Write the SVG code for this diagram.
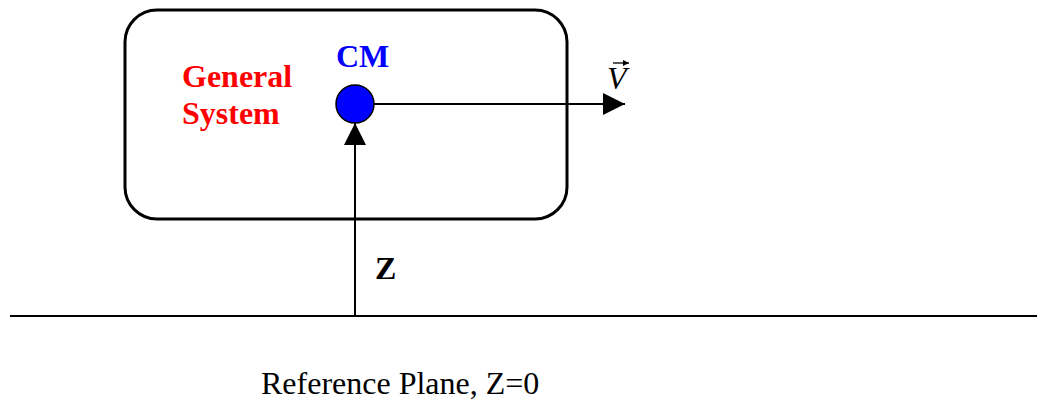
<svg xmlns="http://www.w3.org/2000/svg" width="1037" height="400" viewBox="0 0 1037 400">
<style>
.ln{stroke:#000;stroke-width:2;fill:none}
.t{font-family:"Liberation Serif",serif}
</style>
<defs>
<marker id="ah" viewBox="0 0 10 10" refX="10" refY="5" markerWidth="6" markerHeight="6" markerUnits="userSpaceOnUse" orient="auto">
<path d="M0,0 L10,5 L0,10 Z" fill="#000"/>
</marker>
<marker id="ah2" viewBox="0 0 10 10" refX="10" refY="5" markerWidth="22" markerHeight="22" markerUnits="userSpaceOnUse" orient="auto">
<path d="M0,0 L10,5 L0,10 Z" fill="#000"/>
</marker>
</defs>
<rect width="1037" height="400" fill="#fff"/>
<g id="system">
<rect x="125" y="10" width="442" height="209" rx="32" ry="32" fill="none" stroke="#000" stroke-width="3"/>
<text class="t" x="182" y="87" font-size="32" font-weight="bold" fill="#f00">General</text>
<text class="t" x="182" y="124" font-size="32" font-weight="bold" fill="#f00">System</text>
</g>
<g id="cm">
<circle cx="355" cy="104" r="19" fill="#00f" stroke="#000" stroke-width="1.5"/>
<text class="t" x="336" y="67" font-size="32" font-weight="bold" fill="#00f">CM</text>
</g>
<g id="ground">
<line x1="10" y1="316" x2="1037" y2="316" stroke="#000" stroke-width="2"/>
<text class="t" x="261" y="394" font-size="32" fill="#000">Reference Plane, Z=0</text>
</g>
<g id="connectors">
<line class="ln" x1="374" y1="104" x2="625" y2="104" marker-end="url(#ah2)"/>
<line class="ln" x1="355" y1="316" x2="355" y2="123" marker-end="url(#ah2)"/>
</g>
<g id="labels">
<text class="t" x="607" y="89" font-size="32" font-style="italic" fill="#000">V</text>
<line x1="613" y1="63" x2="629" y2="63" stroke="#000" stroke-width="1.3" marker-end="url(#ah)"/>
<text class="t" x="375" y="279" font-size="32" font-weight="bold" fill="#000">Z</text>
</g>
</svg>
